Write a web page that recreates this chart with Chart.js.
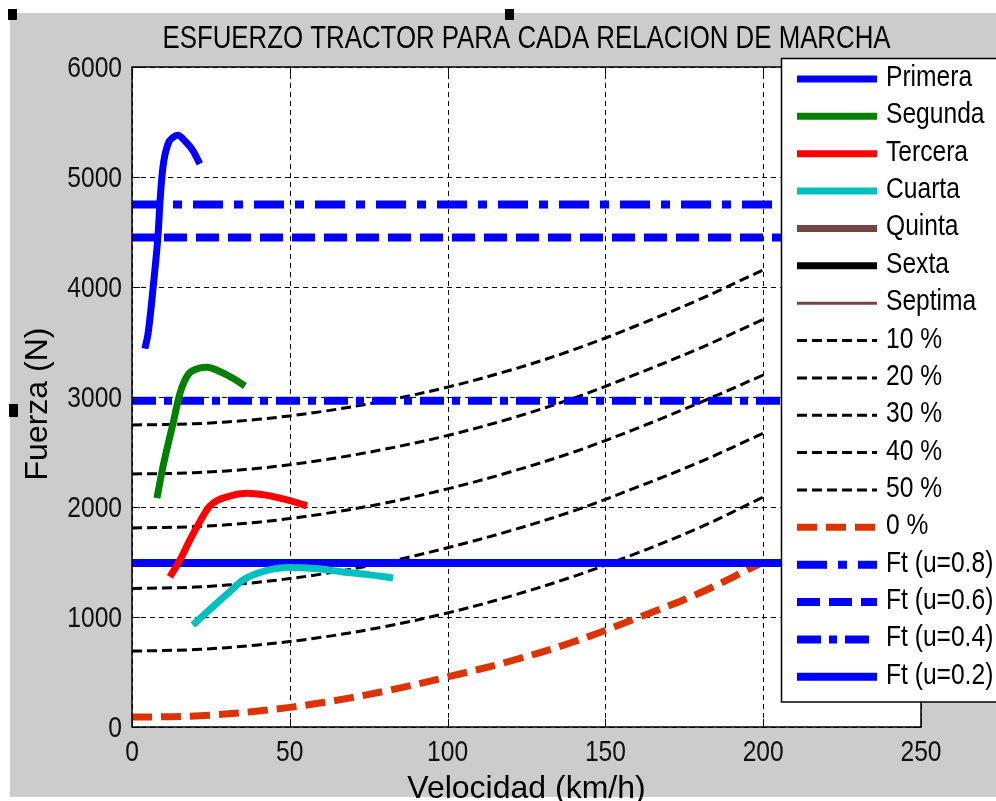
<!DOCTYPE html>
<html>
<head>
<meta charset="utf-8">
<script src="https://cdn.jsdelivr.net/npm/chart.js@4.4.0/dist/chart.umd.min.js"></script>
<style>
  html, body { margin: 0; padding: 0; background: #fff; }
  #wrap { width: 996px; height: 801px; }
</style>
</head>
<body>
<div id="wrap"><canvas id="myChart" width="996" height="801"></canvas></div>
<script>
const FONT = '"Liberation Sans", Arial, sans-serif';
const NARROW_X = 0.82; // squeeze to look like the narrow matlab font

// gear curves (km/h, N)
const primeraV = [4.1, 5.1, 6.3, 7.4, 8.3, 8.9, 9.8, 11.4, 13, 14.5, 17, 19.3, 21.5];
const primeraF = [3440, 3580, 3880, 4200, 4490, 4790, 5090, 5300, 5360, 5380, 5320, 5240, 5120];
const segundaV = [7.9, 9.8, 11.5, 13, 15.2, 17.7, 20.5, 23.8, 28, 32, 35.8];
const segundaF = [2080, 2365, 2580, 2760, 3035, 3200, 3255, 3270, 3230, 3170, 3100];
const terceraV = [12, 15.2, 18, 20.6, 24.7, 31, 36.4, 42, 46.9, 51, 55.4];
const terceraF = [1365, 1518, 1680, 1820, 2010, 2100, 2125, 2110, 2080, 2050, 2010];
const cuartaV = [19.3, 23, 26.9, 31, 35.2, 43.7, 50, 58, 66.9, 75, 82.7];
const cuartaF = [927, 1025, 1127, 1230, 1336, 1430, 1450, 1440, 1410, 1385, 1355];

// resistance curves
const resV = [0, 20, 40, 60, 80, 100, 120, 140, 160, 180, 200];
const res10 = [690, 704, 746, 815, 912, 1037, 1190, 1370, 1580, 1815, 2090];
const res20 = [1260, 1272, 1316, 1390, 1495, 1630, 1785, 1965, 2180, 2410, 2670];
const res30 = [1810, 1822, 1862, 1935, 2035, 2165, 2320, 2500, 2715, 2950, 3200];
const res40 = [2300, 2312, 2352, 2425, 2525, 2650, 2805, 2990, 3210, 3445, 3705];
const res50 = [2745, 2757, 2797, 2867, 2965, 3090, 3245, 3430, 3650, 3890, 4155];
const res0 = [90, 100, 145, 220, 325, 455, 600, 775, 990, 1220, 1500];

// adherence limits
const ftV = [0, 250];
const ft08 = [4750, 4750];
const ft06 = [4450, 4450];
const ft04 = [2965, 2965];
const ft02 = [1490, 1490];

function pts(xs, ys) {
    return xs.map((x, i) => ({ x: x, y: ys[i] }));
}

const gearDs = (label, xs, ys, color, w) => ({
    label: label, data: xs ? pts(xs, ys) : [], borderColor: color,
    borderWidth: w, cubicInterpolationMode: "monotone", order: 0
});
const resDs = (label, ys) => ({
    label: label, data: pts(resV, ys), borderColor: "#000",
    borderWidth: 3, borderDash: [10, 5], tension: 0.35, order: 2
});
const ftDs = (label, ys, dash) => ({
    label: label, data: pts(ftV, ys), borderColor: "#0000ff",
    borderWidth: 8, borderDash: dash, order: 1
});

const datasets = [
    gearDs("Primera", primeraV, primeraF, "#0000ff", 7),
    gearDs("Segunda", segundaV, segundaF, "#008000", 7),
    gearDs("Tercera", terceraV, terceraF, "#ff0000", 7),
    gearDs("Cuarta", cuartaV, cuartaF, "#00bfbf", 7),
    gearDs("Quinta", null, null, "#774444", 7),
    gearDs("Sexta", null, null, "#000000", 7),
    gearDs("Septima", null, null, "#774444", 3),
    resDs("10 %", res10),
    resDs("20 %", res20),
    resDs("30 %", res30),
    resDs("40 %", res40),
    resDs("50 %", res50),
    { label: "0 %", data: pts(resV, res0), borderColor: "#dd3300", borderWidth: 7,
      borderDash: [20, 9], tension: 0.35, order: 2 },
    ftDs("Ft (u=0.8)", ft08, [30, 11, 9, 11]),
    ftDs("Ft (u=0.6)", ft06, [23, 9]),
    ftDs("Ft (u=0.4)", ft04, [24, 8, 8, 8]),
    ftDs("Ft (u=0.2)", ft02, [])
];

function narrowText(ctx, text, x, y, size, align) {
    ctx.save();
    ctx.translate(x, y);
    ctx.scale(NARROW_X, 1);
    ctx.font = size + "px " + FONT;
    ctx.textAlign = align;
    ctx.textBaseline = "alphabetic";
    ctx.fillText(text, 0, 0);
    ctx.restore();
}

const matlabLook = {
    id: "matlabLook",
    beforeDraw(chart) {
        const ctx = chart.ctx, a = chart.chartArea;
        ctx.save();
        ctx.fillStyle = "#fff";
        ctx.fillRect(0, 0, chart.width, chart.height);
        ctx.fillStyle = "#cccccc";
        ctx.fillRect(10, 13, chart.width - 10, 784);
        ctx.fillStyle = "#fff";
        ctx.fillRect(a.left, a.top, a.right - a.left, a.bottom - a.top);
        ctx.restore();
    },
    beforeDatasetsDraw(chart) {
        const ctx = chart.ctx, a = chart.chartArea;
        const xs = chart.scales.x, ys = chart.scales.y;
        ctx.save();
        ctx.strokeStyle = "#000";
        ctx.lineWidth = 1;
        ctx.setLineDash([5, 4]);
        xs.ticks.forEach(t => {
            const px = Math.round(xs.getPixelForValue(t.value)) + 0.5;
            ctx.beginPath(); ctx.moveTo(px, a.bottom); ctx.lineTo(px, a.top); ctx.stroke();
        });
        ys.ticks.forEach(t => {
            const py = Math.round(ys.getPixelForValue(t.value)) + 0.5;
            ctx.beginPath(); ctx.moveTo(a.left, py); ctx.lineTo(a.right, py); ctx.stroke();
        });
        ctx.restore();
    },
    afterDatasetsDraw(chart) {
        const ctx = chart.ctx, a = chart.chartArea;
        const xs = chart.scales.x, ys = chart.scales.y;
        ctx.save();
        ctx.strokeStyle = "#000";
        ctx.lineWidth = 1.5;
        ctx.strokeRect(a.left, a.top, a.right - a.left, a.bottom - a.top);
        ctx.lineWidth = 1;
        xs.ticks.forEach(t => {
            const px = Math.round(xs.getPixelForValue(t.value)) + 0.5;
            ctx.beginPath();
            ctx.moveTo(px, a.bottom); ctx.lineTo(px, a.bottom - 8);
            ctx.moveTo(px, a.top); ctx.lineTo(px, a.top + 8);
            ctx.stroke();
        });
        ys.ticks.forEach(t => {
            const py = Math.round(ys.getPixelForValue(t.value)) + 0.5;
            ctx.beginPath();
            ctx.moveTo(a.left, py); ctx.lineTo(a.left + 8, py);
            ctx.moveTo(a.right, py); ctx.lineTo(a.right - 8, py);
            ctx.stroke();
        });
        ctx.restore();
    },
    afterDraw(chart) {
        const ctx = chart.ctx, a = chart.chartArea;
        const xs = chart.scales.x, ys = chart.scales.y;
        ctx.save();
        ctx.fillStyle = "#111";

        // tick labels from the scales
        xs.ticks.forEach(t => {
            narrowText(ctx, String(t.value), xs.getPixelForValue(t.value), 761, 30, "center");
        });
        ys.ticks.forEach(t => {
            narrowText(ctx, String(t.value), 122, ys.getPixelForValue(t.value) + 10, 30, "right");
        });

        // titles
        ctx.fillStyle = "#000";
        narrowText(ctx, "ESFUERZO TRACTOR PARA CADA RELACION DE MARCHA", (a.left + a.right) / 2, 48, 31.5, "center");
        ctx.font = "32px " + FONT;
        ctx.textAlign = "center";
        ctx.textBaseline = "alphabetic";
        ctx.fillText("Velocidad (km/h)", (a.left + a.right) / 2, 798);
        ctx.save();
        ctx.translate(47, 404);
        ctx.rotate(-Math.PI / 2);
        ctx.fillText("Fuerza (N)", 0, 0);
        ctx.restore();

        // legend
        const lx = 781.5, ly = 58.5;
        ctx.fillStyle = "#fff";
        ctx.fillRect(lx, ly, chart.width - lx + 5, 702 - ly);
        ctx.strokeStyle = "#000";
        ctx.lineWidth = 1.5;
        ctx.strokeRect(lx, ly, chart.width - lx + 10, 702 - ly);
        chart.data.datasets.forEach((ds, i) => {
            const y = 79 + i * 37.36;
            ctx.save();
            ctx.strokeStyle = ds.borderColor;
            ctx.lineWidth = ds.borderWidth;
            ctx.setLineDash(ds.borderDash || []);
            ctx.beginPath(); ctx.moveTo(797, y); ctx.lineTo(877, y); ctx.stroke();
            ctx.restore();
            ctx.fillStyle = "#000";
            narrowText(ctx, ds.label, 886, y + 7, 30, "left");
        });

        // selection handles
        ctx.fillStyle = "#000";
        ctx.fillRect(8, 9, 9, 11);
        ctx.fillRect(505, 9, 9, 11);
        ctx.fillRect(9, 404, 9, 13);
        ctx.restore();
    }
};

const config = {
    type: "line",
    data: { datasets: datasets },
    options: {
        responsive: false,
        animation: false,
        devicePixelRatio: 1,
        layout: { padding: { left: 0, top: 67, right: 75, bottom: 0 } },
        elements: { point: { radius: 0, hoverRadius: 0 } },
        plugins: { legend: { display: false }, tooltip: { enabled: false }, title: { display: false } },
        scales: {
            x: {
                type: "linear", min: 0, max: 250,
                ticks: { stepSize: 50, display: false },
                grid: { display: false, drawTicks: false },
                border: { display: false },
                afterFit: s => { s.height = 74; }
            },
            y: {
                type: "linear", min: 0, max: 6000,
                ticks: { stepSize: 1000, display: false },
                grid: { display: false, drawTicks: false },
                border: { display: false },
                afterFit: s => { s.width = 132; }
            }
        }
    },
    plugins: [matlabLook]
};

const myChart = new Chart(document.getElementById("myChart"), config);
</script>
</body>
</html>
